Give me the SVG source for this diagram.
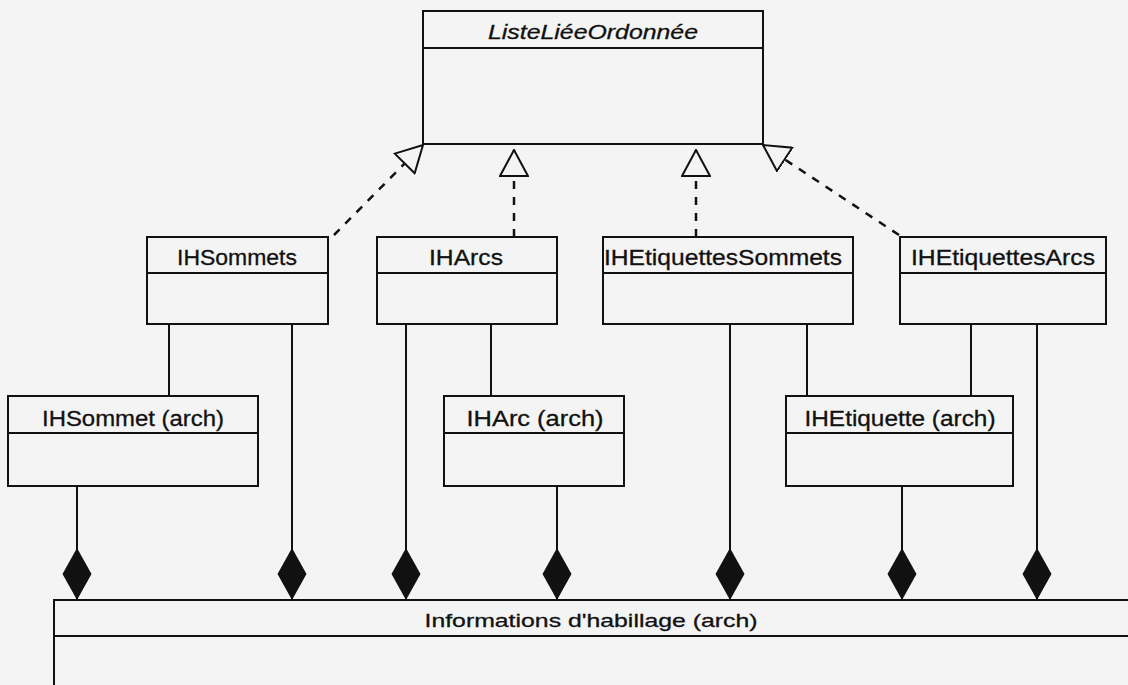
<svg xmlns="http://www.w3.org/2000/svg" width="1128" height="685" viewBox="0 0 1128 685">
<defs>
<style>
.box{fill:none;stroke:#111;stroke-width:2}
.sep{stroke:#111;stroke-width:2}
.lbl{font-family:"Liberation Sans",Arial,sans-serif;font-size:22px;fill:#111;stroke:#111;stroke-width:0.3;text-anchor:middle}
.it{font-style:italic;font-size:21px}
.sm{font-size:19px}
.real{fill:none;stroke:#111;stroke-width:2.5;stroke-dasharray:8 8}
.assoc{fill:none;stroke:#111;stroke-width:2}
</style>
<marker id="tri" viewBox="0 0 28 30" refX="27" refY="15" markerWidth="28" markerHeight="30" markerUnits="userSpaceOnUse" orient="auto">
<path d="M1,1 L27,15 L1,29 Z" fill="#f4f4f4" stroke="#111" stroke-width="2" stroke-linejoin="miter"/>
</marker>
<marker id="dia" viewBox="0 0 52 30" refX="52" refY="15" markerWidth="52" markerHeight="30" markerUnits="userSpaceOnUse" orient="auto">
<path d="M0,15 L26,0.5 L52,15 L26,29.5 Z" fill="#111"/>
</marker>
</defs>
<rect x="0" y="0" width="1128" height="685" fill="#f4f4f4"/>

<g id="connectors">
<line class="real" x1="334" y1="235" x2="423" y2="145" marker-end="url(#tri)"/>
<line class="real" x1="514" y1="237" x2="514" y2="150" marker-end="url(#tri)"/>
<line class="real" x1="696" y1="237" x2="696" y2="150" marker-end="url(#tri)"/>
<line class="real" x1="899" y1="235" x2="763" y2="145" marker-end="url(#tri)"/>

<line class="assoc" x1="169" y1="324" x2="169" y2="396"/>
<line class="assoc" x1="491" y1="324" x2="491" y2="396"/>
<line class="assoc" x1="807" y1="324" x2="807" y2="396"/>
<line class="assoc" x1="971" y1="324" x2="971" y2="396"/>

<line class="assoc" x1="77" y1="486" x2="77" y2="600" marker-end="url(#dia)"/>
<line class="assoc" x1="292" y1="324" x2="292" y2="600" marker-end="url(#dia)"/>
<line class="assoc" x1="406" y1="324" x2="406" y2="600" marker-end="url(#dia)"/>
<line class="assoc" x1="557" y1="486" x2="557" y2="600" marker-end="url(#dia)"/>
<line class="assoc" x1="730" y1="324" x2="730" y2="600" marker-end="url(#dia)"/>
<line class="assoc" x1="902" y1="486" x2="902" y2="600" marker-end="url(#dia)"/>
<line class="assoc" x1="1037" y1="324" x2="1037" y2="600" marker-end="url(#dia)"/>
</g>

<g id="ListeLieeOrdonnee">
<rect class="box" x="423" y="11" width="340" height="133"/>
<line class="sep" x1="423" y1="48" x2="763" y2="48"/>
<text class="lbl it" x="593" y="39" textLength="210" lengthAdjust="spacingAndGlyphs">ListeLiéeOrdonnée</text>
</g>

<g id="IHSommets">
<rect class="box" x="147" y="237" width="181" height="87"/>
<line class="sep" x1="147" y1="273" x2="328" y2="273"/>
<text class="lbl" x="237" y="265" textLength="120" lengthAdjust="spacingAndGlyphs">IHSommets</text>
</g>

<g id="IHArcs">
<rect class="box" x="377" y="237" width="180" height="87"/>
<line class="sep" x1="377" y1="273" x2="557" y2="273"/>
<text class="lbl" x="466" y="265" textLength="74" lengthAdjust="spacingAndGlyphs">IHArcs</text>
</g>

<g id="IHEtiquettesSommets">
<rect class="box" x="603" y="237" width="250" height="87"/>
<line class="sep" x1="603" y1="273" x2="853" y2="273"/>
<text class="lbl" x="723" y="265" textLength="238" lengthAdjust="spacingAndGlyphs">IHEtiquettesSommets</text>
</g>

<g id="IHEtiquettesArcs">
<rect class="box" x="900" y="237" width="206" height="87"/>
<line class="sep" x1="900" y1="273" x2="1106" y2="273"/>
<text class="lbl" x="1003" y="265" textLength="184" lengthAdjust="spacingAndGlyphs">IHEtiquettesArcs</text>
</g>

<g id="IHSommetArch">
<rect class="box" x="8" y="396" width="250" height="90"/>
<line class="sep" x1="8" y1="433" x2="258" y2="433"/>
<text class="lbl" x="133" y="426" textLength="182" lengthAdjust="spacingAndGlyphs">IHSommet (arch)</text>
</g>

<g id="IHArcArch">
<rect class="box" x="444" y="396" width="180" height="90"/>
<line class="sep" x1="444" y1="433" x2="624" y2="433"/>
<text class="lbl" x="535" y="426" textLength="137" lengthAdjust="spacingAndGlyphs">IHArc (arch)</text>
</g>

<g id="IHEtiquetteArch">
<rect class="box" x="786" y="396" width="227" height="90"/>
<line class="sep" x1="786" y1="433" x2="1013" y2="433"/>
<text class="lbl" x="900" y="426" textLength="191" lengthAdjust="spacingAndGlyphs">IHEtiquette (arch)</text>
</g>

<g id="InformationsHabillage">
<rect class="box" x="54" y="600" width="1090" height="100"/>
<line class="sep" x1="54" y1="636" x2="1128" y2="636"/>
<text class="lbl sm" x="591" y="627" textLength="333" lengthAdjust="spacingAndGlyphs">Informations d'habillage (arch)</text>
</g>
</svg>
